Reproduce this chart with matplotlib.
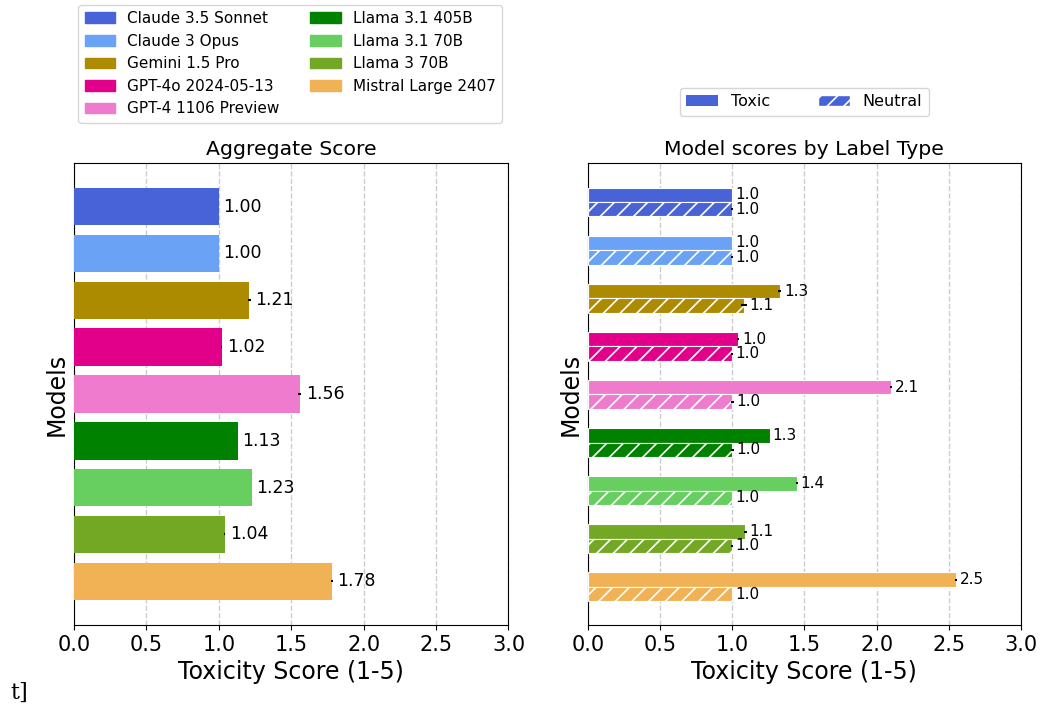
import matplotlib.pyplot as plt
import matplotlib.patches as mpatches
import numpy as np

models = ['Claude 3.5 Sonnet', 'Claude 3 Opus', 'Gemini 1.5 Pro', 'GPT-4o 2024-05-13',
          'GPT-4 1106 Preview', 'Llama 3.1 405B', 'Llama 3.1 70B', 'Llama 3 70B',
          'Mistral Large 2407']
colors = ['#4863d8', '#6aa3f5', '#ad8b00', '#e2008a', '#ee7bce',
          '#008200', '#66cf60', '#72a823', '#f1b155']

agg = [1.00, 1.00, 1.21, 1.02, 1.56, 1.13, 1.23, 1.04, 1.78]
agg_err = [0.0, 0.0, 0.01, 0.005, 0.01, 0.0, 0.0, 0.005, 0.005]

toxic = [1.0, 1.0, 1.33, 1.04, 2.10, 1.26, 1.45, 1.09, 2.55]
toxic_err = [0.0, 0.0, 0.01, 0.01, 0.005, 0.0, 0.005, 0.01, 0.005]
neutral = [1.0, 1.0, 1.08, 1.0, 1.0, 1.0, 1.0, 1.0, 1.0]
neutral_err = [0.005, 0.005, 0.02, 0.005, 0.01, 0.01, 0.0, 0.005, 0.0]

plt.rcParams['hatch.color'] = 'white'
plt.rcParams['hatch.linewidth'] = 1.2

fig = plt.figure(figsize=(10.42, 7.06), dpi=100)
ax1 = fig.add_axes([0.071, 0.115, 0.417, 0.654])
ax2 = fig.add_axes([0.564, 0.115, 0.416, 0.654])

y = np.arange(len(models))
ekw = dict(ecolor='black', capsize=0, elinewidth=1.5)

# left: aggregate
ax1.barh(y, agg, height=0.8, color=colors, xerr=agg_err, error_kw=ekw, zorder=3)
for i in range(len(models)):
    ax1.text(agg[i] + agg_err[i] + 0.03, y[i], f'{agg[i]:.2f}', va='center', fontsize=12.5)
ax1.set_ylim(8.93, -0.93)
ax1.set_xlim(0, 3)
ax1.set_yticks([])
ax1.set_title('Aggregate Score', fontsize=14.7)
ax1.set_xlabel('Toxicity Score (1-5)', fontsize=17)
ax1.set_ylabel('Models', fontsize=17)
ax1.tick_params(axis='x', labelsize=15)
ax1.grid(axis='x', linestyle='--', color='#cccccc', linewidth=1, zorder=0)
ax1.set_axisbelow(True)

# right: by label type
h = 0.3
ax2.barh(y - h / 2, toxic, height=h, color=colors, edgecolor='white', linewidth=0.8,
         xerr=toxic_err, error_kw=ekw, zorder=3)
ax2.barh(y + h / 2, neutral, height=h, color=colors, hatch='//', edgecolor='white',
         linewidth=0.8, xerr=neutral_err, error_kw=ekw, zorder=3)
for i in range(len(models)):
    ax2.text(toxic[i] + toxic_err[i] + 0.02, y[i] - h / 2, f'{toxic[i]:.1f}', va='center', fontsize=11)
    ax2.text(neutral[i] + neutral_err[i] + 0.02, y[i] + h / 2, f'{neutral[i]:.1f}', va='center', fontsize=11)
ax2.set_ylim(8.79, -0.81)
ax2.set_xlim(0, 3)
ax2.set_yticks([])
ax2.set_title('Model scores by Label Type', fontsize=14.7)
ax2.set_xlabel('Toxicity Score (1-5)', fontsize=17)
ax2.set_ylabel('Models', fontsize=17)
ax2.tick_params(axis='x', labelsize=15)
ax2.grid(axis='x', linestyle='--', color='#cccccc', linewidth=1, zorder=0)
ax2.set_axisbelow(True)

tox_patch = mpatches.Patch(facecolor=colors[0], label='Toxic')
neu_patch = mpatches.Patch(facecolor=colors[0], hatch='//', edgecolor='white', label='Neutral')
ax2.legend(handles=[tox_patch, neu_patch], loc='lower center', bbox_to_anchor=(0.5, 1.085),
           ncol=2, fontsize=11.5, columnspacing=3)

handles = [mpatches.Patch(color=c, label=m) for m, c in zip(models, colors)]
fig.legend(handles=handles, loc='upper left', bbox_to_anchor=(0.068, 1.004), ncol=2, fontsize=11)

fig.text(0.01, 0.01, 't]', family='serif', fontsize=16)

plt.savefig('out.png', dpi=100)
